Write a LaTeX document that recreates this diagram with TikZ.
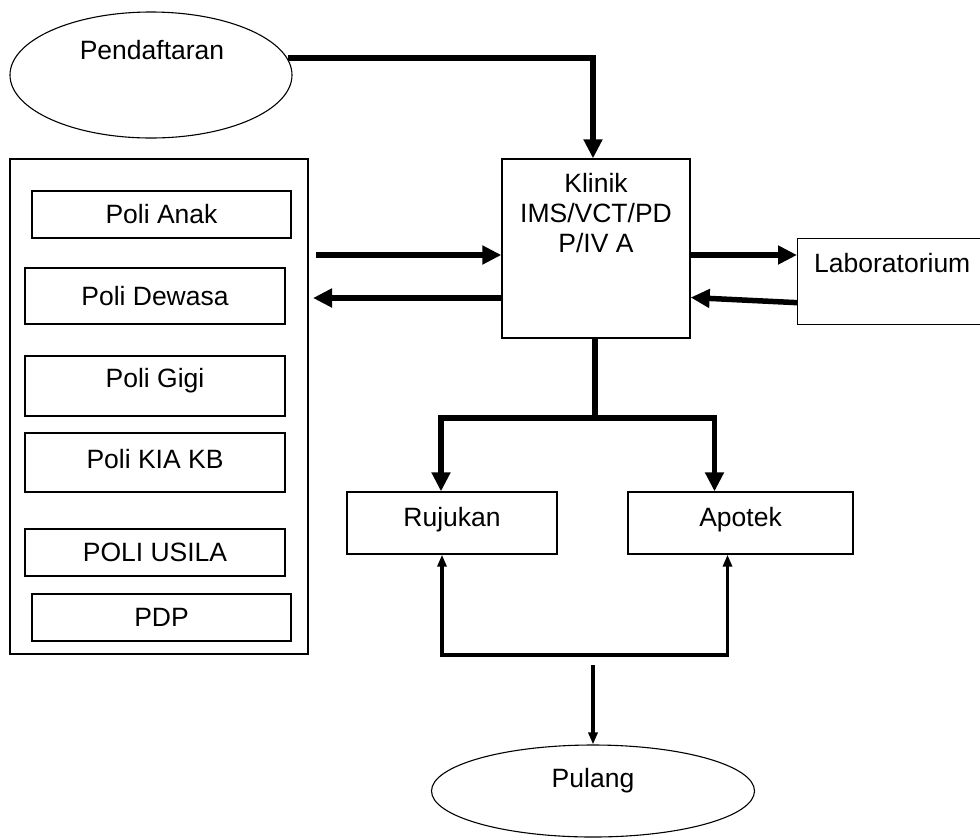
\documentclass[tikz,border=0pt]{standalone}
\usepackage{fontspec}
\setmainfont{Liberation Sans}
\usetikzlibrary{arrows.meta,shapes.geometric,calc}
\begin{document}
\begin{tikzpicture}[x=1pt,y=-1pt,
  every node/.style={font=\fontsize{26.5}{30}\selectfont},
  box/.style={draw, line width=1.3pt, inner sep=0pt},
  oval/.style={draw, ellipse, line width=1.1pt, inner sep=0pt},
  txt/.style={inner sep=0pt, align=center},
  big/.style={line width=5.5pt, -{Triangle[length=19pt,width=18pt]}},
  bigline/.style={line width=5.5pt},
  mid/.style={line width=3.5pt, -{Triangle[length=12pt,width=9pt]}},
  midline/.style={line width=4pt}]
\clip (0,0) rectangle (980,839);
\fill[white] (0,0) rectangle (980,839);

% Pendaftaran
\node[oval, minimum width=282, minimum height=126] (pend) at (151,75) {};
\node[txt] (pendT) at (152,50) {Pendaftaran};

% Klinik
\node[box, minimum width=188, minimum height=179] (klinik) at (596,248.5) {};
\node[txt] (klinikT) at (596,213) {Klinik\\IMS/VCT/PD\\P/IV A};

% Laboratorium
\node[box, minimum width=200, minimum height=86, anchor=north west] (lab) at (797,238) {};
\node[txt, anchor=west] (labT) at (814,263) {Laboratorium};

% Left group
\node[box, minimum width=298, minimum height=495] (poli) at (159,406.5) {};
\node[box, minimum width=259, minimum height=47] (anak) at (161.5,214.5) {Poli Anak};
\node[box, minimum width=260, minimum height=56] (dewasa) at (155,296) {Poli Dewasa};
\node[box, minimum width=260, minimum height=60] (gigi) at (155,386) {};
\node[txt] (gigiT) at (155,381) {Poli Gigi};
\node[box, minimum width=260, minimum height=59] (kia) at (155,462.5) {};
\node[txt] (kiaT) at (155,459) {Poli KIA KB};
\node[box, minimum width=260, minimum height=47] (usila) at (155,552.5) {POLI USILA};
\node[box, minimum width=259, minimum height=47] (pdp) at (161.5,617.5) {PDP};

% Rujukan / Apotek
\node[box, minimum width=210, minimum height=62] (rujukan) at (452,523) {};
\node[txt] (rujukanT) at (452,520) {Rujukan};
\node[box, minimum width=225, minimum height=62] (apotek) at (740.5,523) {};
\node[txt] (apotekT) at (740.5,520) {Apotek};

% Pulang
\node[oval, minimum width=323, minimum height=92] (pulang) at (593,791) {};
\node[txt] (pulangT) at (593,781) {Pulang};

% Connectors
\draw[big] (pend.7) -| ([xshift=-3pt]klinik.north);

\coordinate (inA) at (316,255);
\draw[big] (inA) -- (inA -| klinik.west);
\coordinate (outA) at (313,298);
\draw[big] (outA -| klinik.west) -- (outA);

\coordinate (labIn) at (690,255);
\draw[big] (labIn) -- (labIn -| lab.west);
\draw[big] ($(lab.west)+(0,21)$) -- ($(klinik.east)+(0,49)$);

\coordinate (split) at (595,418);
\draw[bigline] (klinik.south -| split) -- (split);
\draw[big] (split) -| ([xshift=-11pt]rujukan.north);
\draw[big] (split) -| ([xshift=-26pt]apotek.north);

\coordinate (join) at (593,655);
\draw[mid] (join) -| ([xshift=-10pt]rujukan.south);
\draw[mid] (join) -| ([xshift=-13pt]apotek.south);
\draw[midline] ([xshift=-150pt]join) -- ([xshift=134pt]join);

\coordinate (pstart) at (593,665);
\draw[mid] (pstart) -- (pstart |- pulang.north);
\end{tikzpicture}
\end{document}
